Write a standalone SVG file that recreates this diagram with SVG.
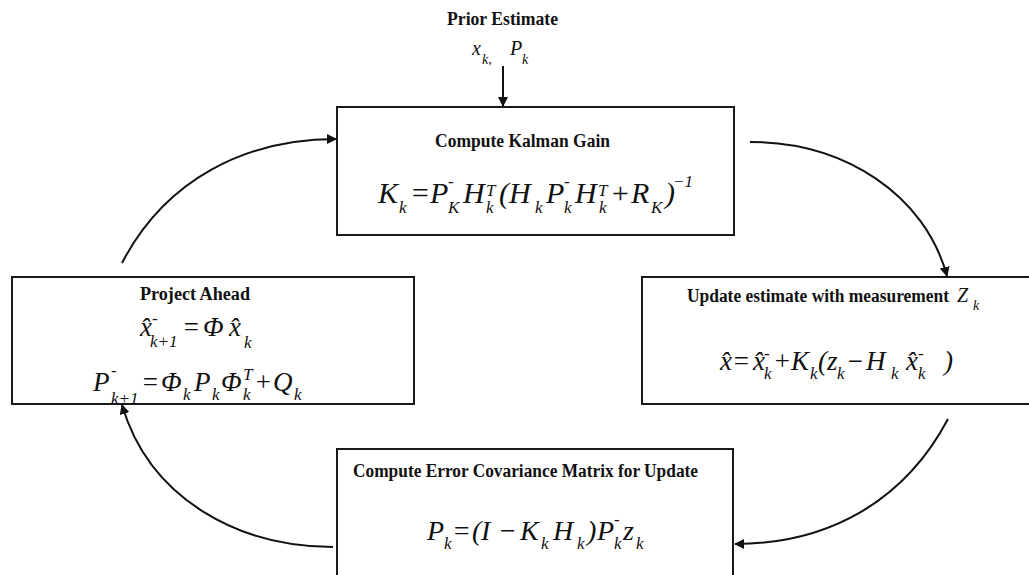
<svg xmlns="http://www.w3.org/2000/svg" width="1029" height="575" viewBox="0 0 1029 575">
<style>
.box{fill:#fff;stroke:#1a1a1a;stroke-width:2}
.t{font-family:"Liberation Serif",serif;font-weight:bold;font-size:18px;fill:#111}
.m{font-family:"Liberation Serif",serif;font-style:italic;fill:#111}
.s{font-size:17px}
.c{fill:none;stroke:#111;stroke-width:2}
</style>
<defs>
<marker id="ah" viewBox="0 0 10 10" refX="9" refY="5" markerWidth="5" markerHeight="5" orient="auto" markerUnits="strokeWidth">
<path d="M0,0 L10,5 L0,10 z" fill="#111"/>
</marker>
</defs>

<g id="prior">
<text class="t" x="447" y="25" textLength="111" lengthAdjust="spacingAndGlyphs">Prior Estimate</text>
<text class="m" font-size="20"><tspan x="472" y="55">x</tspan><tspan font-size="14" x="482" y="64">k,</tspan><tspan x="510" y="55">P</tspan><tspan font-size="14" x="522" y="64">k</tspan></text>
</g>

<g id="gain">
<rect class="box" x="337" y="107" width="397" height="128"/>
<text class="t" x="435" y="147" textLength="175" lengthAdjust="spacingAndGlyphs">Compute Kalman Gain</text>
<text class="m" font-size="30">
<tspan x="378" y="203">K</tspan><tspan class="s" x="399" y="213">k</tspan>
<tspan x="410" y="203">=</tspan>
<tspan x="430" y="203">P</tspan><tspan class="s" x="448" y="187">-</tspan><tspan class="s" x="448" y="213">K</tspan>
<tspan x="463" y="203">H</tspan><tspan class="s" x="486" y="196">T</tspan><tspan class="s" x="486" y="213">k</tspan>
<tspan x="499" y="203">(</tspan>
<tspan x="509" y="203">H</tspan><tspan class="s" x="535" y="213">k</tspan>
<tspan x="546" y="203">P</tspan><tspan class="s" x="564" y="187">-</tspan><tspan class="s" x="564" y="213">k</tspan>
<tspan x="575" y="203">H</tspan><tspan class="s" x="598" y="196">T</tspan><tspan class="s" x="599" y="213">k</tspan>
<tspan x="610" y="203">+</tspan>
<tspan x="631" y="203">R</tspan><tspan class="s" x="651" y="213">K</tspan>
<tspan x="665" y="203">)</tspan><tspan class="s" x="673" y="187">−1</tspan>
</text>
</g>

<g id="project">
<rect class="box" x="12" y="277" width="402" height="127"/>
<text class="t" x="140" y="300" textLength="110" lengthAdjust="spacingAndGlyphs">Project Ahead</text>
<text class="m" font-size="27">
<tspan x="140" y="336">x̂</tspan><tspan class="s" x="152" y="324">-</tspan><tspan class="s" x="150" y="347">k+1</tspan>
<tspan x="182" y="336">=</tspan>
<tspan x="203" y="336">Φ</tspan>
<tspan x="229" y="336">x̂</tspan><tspan class="s" x="244" y="348">k</tspan>
</text>
<text class="m" font-size="27">
<tspan x="93" y="391">P</tspan><tspan class="s" x="111" y="376">-</tspan><tspan class="s" x="111" y="404">k+1</tspan>
<tspan x="141" y="391">=</tspan>
<tspan x="161" y="391">Φ</tspan><tspan class="s" x="183" y="400">k</tspan>
<tspan x="194" y="391">P</tspan><tspan class="s" x="212" y="400">k</tspan>
<tspan x="221" y="391">Φ</tspan><tspan class="s" x="243" y="380">T</tspan><tspan class="s" x="243" y="400">k</tspan>
<tspan x="254" y="391">+</tspan>
<tspan x="273" y="391">Q</tspan><tspan class="s" x="294" y="400">k</tspan>
</text>
</g>

<g id="update">
<rect class="box" x="642" y="277" width="400" height="127"/>
<text class="t" x="687" y="302" textLength="262" lengthAdjust="spacingAndGlyphs">Update estimate with measurement</text>
<text class="m" font-size="20"><tspan x="957" y="302">Z</tspan><tspan font-size="14" x="973" y="310">k</tspan></text>
<text class="m" font-size="27">
<tspan x="720" y="370">x̂</tspan>
<tspan x="732" y="370">=</tspan>
<tspan x="753" y="370">x̂</tspan><tspan class="s" x="764" y="359">-</tspan><tspan class="s" x="764" y="379">k</tspan>
<tspan x="773" y="370">+</tspan>
<tspan x="791" y="370">K</tspan><tspan class="s" x="810" y="379">k</tspan>
<tspan x="818" y="370">(</tspan>
<tspan x="827" y="370">z</tspan><tspan class="s" x="837" y="379">k</tspan>
<tspan x="846" y="370">−</tspan>
<tspan x="866" y="370">H</tspan><tspan class="s" x="891" y="379">k</tspan>
<tspan x="906" y="370">x̂</tspan><tspan class="s" x="918" y="359">-</tspan><tspan class="s" x="918" y="379">k</tspan>
<tspan x="944" y="370">)</tspan>
</text>
</g>

<g id="covariance">
<rect class="box" x="337" y="449" width="396" height="140"/>
<text class="t" x="353" y="477" textLength="345" lengthAdjust="spacingAndGlyphs">Compute Error Covariance Matrix for Update</text>
<text class="m" font-size="28">
<tspan x="427" y="540">P</tspan><tspan class="s" x="444" y="549">k</tspan>
<tspan x="452" y="540">=</tspan>
<tspan x="472" y="540">(</tspan>
<tspan x="481" y="540">I</tspan>
<tspan x="498" y="540">−</tspan>
<tspan x="520" y="540">K</tspan><tspan class="s" x="541" y="549">k</tspan>
<tspan x="553" y="540">H</tspan><tspan class="s" x="577" y="549">k</tspan>
<tspan x="587" y="540">)</tspan>
<tspan x="597" y="540">P</tspan><tspan class="s" x="614" y="525">-</tspan><tspan class="s" x="614" y="549">k</tspan>
<tspan x="623" y="540">z</tspan><tspan class="s" x="636" y="549">k</tspan>
</text>
</g>

<g id="connectors">
<path class="c" d="M503,66 L503,106" marker-end="url(#ah)"/>
<path class="c" d="M122,263 C165,180 245,139 336,139" marker-end="url(#ah)"/>
<path class="c" d="M750,142 C845,142 925,195 947,276" marker-end="url(#ah)"/>
<path class="c" d="M948,419 C905,500 830,544 735,544" marker-end="url(#ah)"/>
<path class="c" d="M333,547 C240,547 150,500 122,405" marker-end="url(#ah)"/>
</g>
</svg>
